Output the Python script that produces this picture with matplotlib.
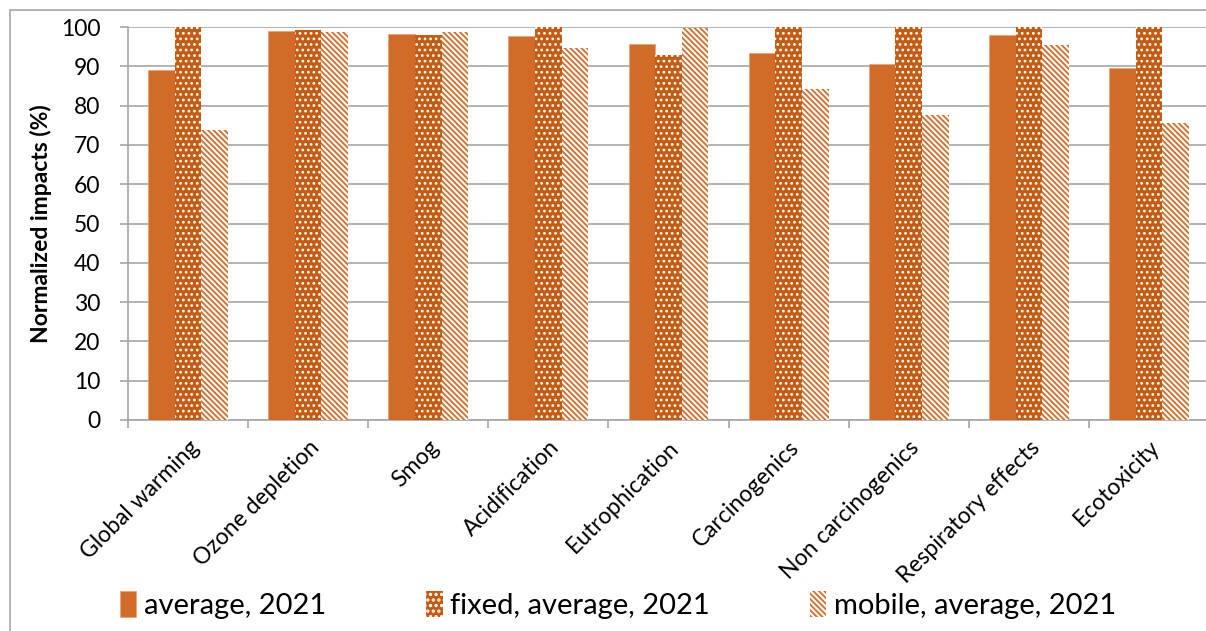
import numpy as np
import matplotlib
matplotlib.use("Agg")
from matplotlib import pyplot as plt
from matplotlib.patches import Rectangle

categories = ["Global warming", "Ozone depletion", "Smog", "Acidification", "Eutrophication",
              "Carcinogenics", "Non carcinogenics", "Respiratory effects", "Ecotoxicity"]
avg_2021 = [89.0, 99.0, 98.3, 97.8, 95.6, 93.3, 90.6, 98.0, 89.6]
fixed_2021 = [100, 99.2, 98.0, 100, 92.8, 100, 100, 100, 100]
mobile_2021 = [73.8, 98.7, 98.8, 94.7, 99.7, 84.1, 77.7, 95.4, 75.5]
series_names = ["average, 2021", "fixed, average, 2021", "mobile, average, 2021"]
yticks = [0, 10, 20, 30, 40, 50, 60, 70, 80, 90, 100]

plt.rcParams['font.family'] = ['Lato', 'DejaVu Sans']
plt.rcParams['hatch.linewidth'] = 1.6

W, H = 1206, 631
fig = plt.figure(figsize=(W / 100, H / 100), dpi=100)
ax = fig.add_axes([128 / W, 1 - 420 / H, (1209 - 128) / W, (420 - 27) / H])

x = np.arange(len(categories))
bw = 0.222
grid_c = '#a6a6a6'

b1 = ax.bar(x - bw, avg_2021, bw, color='#d26b28', edgecolor='#e8a070', linewidth=0.5,
            label=series_names[0], zorder=3)
b2 = ax.bar(x, fixed_2021, bw, color='#c55a11', edgecolor='white', linewidth=0, hatch='...',
            label=series_names[1], zorder=3)
b3 = ax.bar(x + bw, mobile_2021, bw, color='white', edgecolor='#d46b28', linewidth=0,
            hatch='\\\\\\\\\\\\', label=series_names[2], zorder=3)
for p in b3:
    if hasattr(p, 'set_hatch_linewidth'):
        p.set_hatch_linewidth(1.3)
for p in b2:
    if hasattr(p, 'set_hatch_linewidth'):
        p.set_hatch_linewidth(1.2)

ax.set_xlim(-0.5, len(categories) - 0.5)
ax.set_ylim(0, 100)
ax.set_yticks(yticks)
ax.yaxis.grid(True, color=grid_c, linewidth=1.2, zorder=0)
ax.set_axisbelow(True)

ax.set_xticks(np.arange(len(categories) + 1) - 0.5, minor=False)
ax.set_xticklabels([])
ax.set_xticks(x, minor=True)
ax.set_xticklabels(categories, minor=True, rotation=45, ha='right', rotation_mode='anchor',
                   fontsize=16.5)
ax.tick_params(axis='x', which='minor', length=0, pad=12)
ax.tick_params(axis='x', which='major', length=6, color=grid_c, width=1.2)
ax.tick_params(axis='y', length=6, color=grid_c, width=1.2, pad=14, labelsize=16.5)

for s in ['top', 'right']:
    ax.spines[s].set_visible(False)
for s in ['left', 'bottom']:
    ax.spines[s].set_color(grid_c)
    ax.spines[s].set_linewidth(1.2)

ax.set_ylabel("Normalized impacts (%)", fontsize=16.5, fontweight='bold', labelpad=6)

leg = fig.legend(handles=[b1, b2, b3], labels=series_names, loc='center left',
                 bbox_to_anchor=(94 / W, 1 - 605 / H), ncol=3, frameon=False, fontsize=21,
                 handlelength=0.55, handleheight=1.0, handletextpad=0.25, columnspacing=3.45)
for p in leg.get_patches():
    if p.get_hatch() and '\\' in p.get_hatch() and hasattr(p, 'set_hatch_linewidth'):
        p.set_hatch_linewidth(1.3)

fig.patches.append(Rectangle((10 / W, -0.01), 1.1, 1 - 10 / H + 0.01, transform=fig.transFigure,
                             fill=False, edgecolor='#a6a6a6', linewidth=1.2))

fig.savefig("out.png", dpi=100)
